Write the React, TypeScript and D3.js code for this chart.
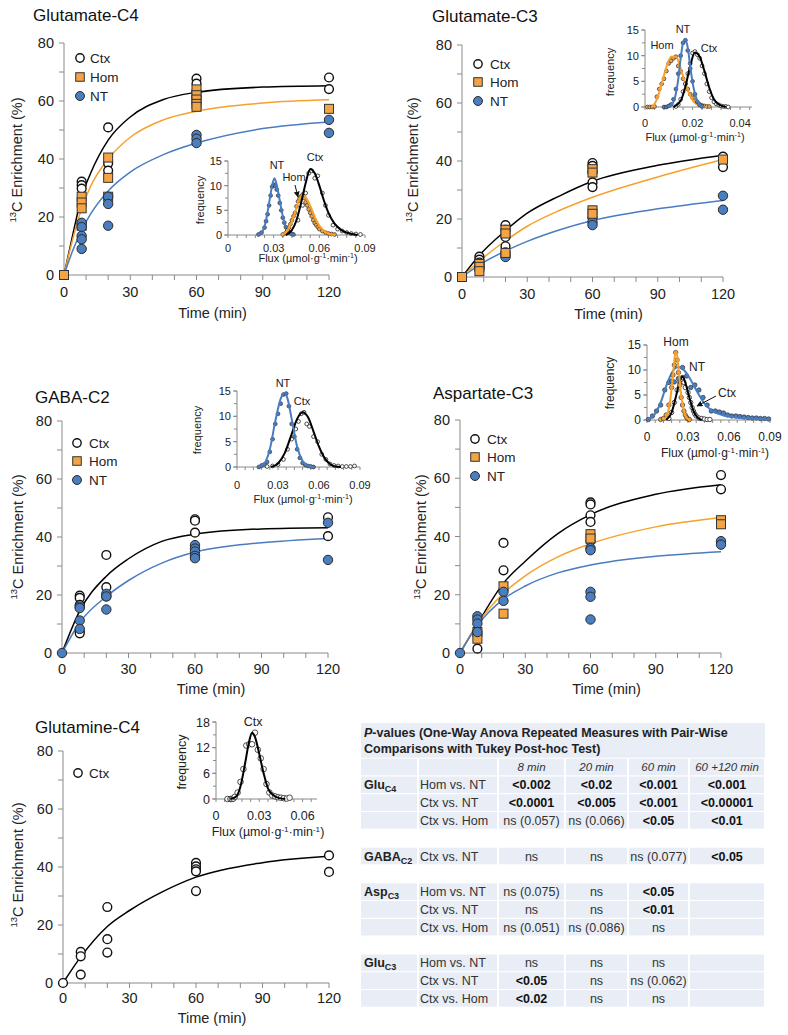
import React from "react";
import * as d3 from "d3";

type P = [number, number];

// ================= DATA =================
// Glutamate-C4 (time min, % enrichment)
const gluC4CtxPts: P[] = [[8, 32.2], [8, 31], [8, 29.8], [20, 50.9], [20, 38.5], [20, 36], [60, 67.7], [60, 66], [60, 63.5], [60, 61.5], [120, 68.1], [120, 64.1]];
const gluC4HomPts: P[] = [[0, 0], [8, 27], [8, 25], [8, 23], [8, 17], [20, 40.5], [20, 33.5], [20, 27], [60, 64], [60, 62], [60, 60.5], [60, 59], [60, 58], [120, 57.3]];
const gluC4NtPts: P[] = [[8, 18], [8, 16.5], [8, 13.5], [8, 12.3], [8, 9], [20, 27], [20, 24.5], [20, 17], [60, 48.3], [60, 47], [60, 45.5], [120, 53.5], [120, 49]];
const gluC4CtxFit: P[] = [[0, 0], [4, 14], [8, 27], [12, 35], [20, 46.5], [30, 54.5], [45, 60.5], [60, 63], [90, 64.8], [120, 65.3]];
const gluC4HomFit: P[] = [[0, 0], [4, 12.5], [8, 23], [12, 30.5], [20, 40], [30, 47.5], [45, 53.5], [60, 56.5], [90, 59.3], [120, 60.4]];
const gluC4NtFit: P[] = [[0, 0], [4, 8.5], [8, 15.5], [12, 21], [20, 29], [30, 35.5], [45, 41.5], [60, 45.5], [90, 50.5], [120, 52.8]];

// Glutamate-C3
const gluC3CtxPts: P[] = [[8, 7], [8, 6], [8, 5], [20, 17.9], [20, 16.3], [20, 13.8], [20, 10.6], [60, 39.3], [60, 38.3], [60, 36.2], [60, 32.6], [60, 31], [120, 41.5], [120, 37.9]];
const gluC3HomPts: P[] = [[0, 0], [8, 4.5], [8, 3.5], [8, 2], [20, 16.3], [20, 15], [20, 8.3], [60, 37.2], [60, 36], [60, 23], [60, 21.8], [120, 40.5]];
const gluC3NtPts: P[] = [[8, 4.2], [8, 3.1], [20, 8.5], [20, 7.7], [20, 6.9], [60, 20.5], [60, 19], [60, 17.9], [120, 28], [120, 23.2]];
const gluC3CtxFit: P[] = [[0, 0], [8, 7.5], [20, 16], [30, 22], [45, 28], [60, 33], [90, 38.5], [120, 42]];
const gluC3HomFit: P[] = [[0, 0], [8, 5.5], [20, 12.5], [30, 17.5], [45, 23], [60, 27.5], [90, 34.5], [120, 40.5]];
const gluC3NtFit: P[] = [[0, 0], [8, 4.2], [20, 9], [30, 12.3], [45, 16.3], [60, 19.5], [90, 23.5], [120, 26.4]];

// GABA-C2
const gabaCtxPts: P[] = [[8, 19.8], [8, 19], [8, 16.6], [8, 7.5], [8, 6.8], [20, 33.8], [20, 22.7], [20, 19.5], [60, 46.1], [60, 45.6], [60, 41.5], [120, 46.8], [120, 40.3]];
const gabaNtPts: P[] = [[0, 0], [8, 16], [8, 15.5], [8, 11.2], [8, 8.3], [20, 20.4], [20, 19.5], [20, 15], [60, 37.2], [60, 36], [60, 35], [60, 33.5], [60, 32.7], [120, 44.9], [120, 32.1]];
const gabaCtxFit: P[] = [[0, 0], [8, 14.5], [20, 26.5], [30, 32.5], [45, 38.5], [60, 41], [90, 42.8], [120, 43.2]];
const gabaNtFit: P[] = [[0, 0], [8, 10.5], [20, 19.5], [30, 25], [45, 31], [60, 34.8], [90, 38], [120, 39.5]];

// Aspartate-C3
const aspCtxPts: P[] = [[8, 1.5], [20, 37.8], [20, 28.4], [60, 51.7], [60, 51], [60, 47.3], [60, 45], [60, 38.5], [120, 61.1], [120, 56.2]];
const aspHomPts: P[] = [[8, 7.2], [8, 4.9], [20, 22.9], [20, 13.5], [60, 40.8], [60, 39.3], [120, 45.6], [120, 44.2]];
const aspNtPts: P[] = [[0, 0], [8, 12.6], [8, 11.5], [8, 10.1], [8, 7.2], [20, 21], [20, 17.9], [60, 36], [60, 35.3], [60, 21], [60, 19.3], [60, 11.5], [120, 38.4], [120, 37.2]];
const aspCtxFit: P[] = [[0, 0], [8, 10], [20, 24], [30, 31.5], [45, 41], [60, 47.5], [90, 54.5], [120, 57.8]];
const aspHomFit: P[] = [[0, 0], [8, 10], [20, 20.5], [30, 26.5], [45, 33], [60, 37.5], [90, 43.3], [120, 46.5]];
const aspNtFit: P[] = [[0, 0], [8, 9.5], [20, 18.5], [30, 23], [45, 27.5], [60, 30.2], [90, 33.2], [120, 34.8]];

// Glutamine-C4
const glnCtxPts: P[] = [[0, 0], [8, 10.7], [8, 9.2], [8, 2.9], [20, 26.2], [20, 15.1], [20, 10.5], [60, 41.4], [60, 40.2], [60, 39.2], [60, 38.5], [60, 31.7], [120, 44], [120, 38.3]];
const glnCtxFit: P[] = [[0, 0], [8, 9], [20, 19.5], [30, 25], [45, 31.5], [60, 36.5], [90, 41.5], [120, 43.7]];

// ---- Flux histograms (flux µmol/g/min, frequency) ----
const hA_NtDots: P[] = [[0.020, 0.1], [0.022, 0.5], [0.024, 1.5], [0.025, 2.8], [0.026, 4.2], [0.027, 6], [0.028, 8], [0.029, 9.8], [0.030, 10.2], [0.031, 10], [0.032, 9.2], [0.033, 8], [0.034, 6.5], [0.035, 5], [0.036, 3.5], [0.037, 2.5], [0.038, 1.6], [0.039, 1], [0.040, 0.6], [0.041, 0.4], [0.042, 0.2], [0.043, 0.1]];
const hA_NtFit: P[] = [[0.019, 0], [0.022, 0.4], [0.025, 3], [0.027, 6.5], [0.029, 10], [0.0305, 11.5], [0.032, 10.2], [0.034, 7], [0.036, 3.8], [0.038, 1.5], [0.040, 0.4], [0.043, 0]];
const hA_HomDots: P[] = [[0.036, 0.1], [0.038, 0.4], [0.039, 1], [0.040, 1.5], [0.041, 2.2], [0.042, 3], [0.043, 3.8], [0.044, 4.5], [0.045, 5.8], [0.046, 6.8], [0.047, 7.4], [0.048, 7.8], [0.049, 8.2], [0.050, 7.5], [0.051, 6.6], [0.052, 6], [0.053, 5.2], [0.054, 4.5], [0.055, 3.8], [0.056, 3], [0.057, 2.4], [0.058, 2], [0.059, 1.6], [0.060, 1.2], [0.062, 0.8], [0.064, 0.5], [0.066, 0.3], [0.068, 0.2], [0.070, 0.1]];
const hA_HomFit: P[] = [[0.035, 0], [0.038, 0.5], [0.041, 2], [0.044, 4.5], [0.046, 6.5], [0.048, 7.8], [0.050, 8], [0.052, 7.2], [0.055, 5.2], [0.058, 3], [0.061, 1.5], [0.064, 0.6], [0.068, 0.1], [0.070, 0]];
const hA_CtxDots: P[] = [[0.046, 3], [0.049, 6], [0.051, 8.5], [0.053, 12.5], [0.055, 13], [0.057, 11.5], [0.059, 12], [0.062, 8.5], [0.064, 6], [0.066, 4], [0.069, 2], [0.072, 1.2], [0.075, 0.8], [0.078, 0.5], [0.081, 0.3], [0.084, 0.2], [0.087, 0.1]];
const hA_CtxFit: P[] = [[0.038, 0], [0.042, 1], [0.045, 3], [0.048, 6.5], [0.051, 10.5], [0.054, 13.4], [0.057, 12.5], [0.060, 10], [0.063, 7], [0.066, 4.5], [0.070, 2.3], [0.075, 0.9], [0.080, 0.3], [0.085, 0]];

const hB_HomDots: P[] = [[0.001, 0], [0.002, 0], [0.003, 0], [0.004, 0.1], [0.005, 2], [0.006, 3.5], [0.007, 4.5], [0.008, 5.5], [0.009, 7], [0.010, 8.5], [0.011, 9], [0.012, 9.5], [0.013, 9.8], [0.014, 8], [0.015, 7], [0.016, 5.5], [0.017, 4.5], [0.018, 3.5], [0.019, 2.5], [0.020, 1.8], [0.021, 1.2], [0.022, 0.8], [0.023, 0.5], [0.024, 0.3], [0.025, 0.2], [0.026, 0.1], [0.027, 0.1]];
const hB_HomFit: P[] = [[0.003, 0], [0.005, 1.5], [0.007, 4.5], [0.009, 7.8], [0.011, 9.8], [0.013, 9.8], [0.015, 7.5], [0.017, 4.5], [0.019, 2.2], [0.021, 0.8], [0.024, 0.1], [0.026, 0]];
const hB_NtDots: P[] = [[0.008, 0], [0.009, 0], [0.010, 0.2], [0.011, 0.5], [0.012, 1.5], [0.013, 3.5], [0.014, 6.5], [0.015, 10], [0.016, 12.5], [0.017, 13], [0.018, 11], [0.019, 7.5], [0.020, 5], [0.021, 2.5], [0.022, 1], [0.023, 0.4], [0.024, 0.1]];
const hB_NtFit: P[] = [[0.010, 0], [0.012, 1], [0.014, 5.5], [0.015, 9.5], [0.016, 12.5], [0.0168, 13.2], [0.018, 11.5], [0.019, 8], [0.020, 4.8], [0.022, 1.2], [0.024, 0.1], [0.025, 0]];
const hB_CtxDots: P[] = [[0.013, 0.1], [0.014, 0.5], [0.015, 1.5], [0.016, 3], [0.017, 4.5], [0.018, 6.5], [0.019, 8.5], [0.020, 10.5], [0.021, 10.8], [0.022, 10.2], [0.023, 9.5], [0.024, 8], [0.025, 6.5], [0.026, 4.5], [0.027, 3], [0.028, 1.8], [0.029, 1], [0.030, 0.6], [0.031, 0.4], [0.032, 0.2], [0.033, 0.1], [0.034, 0.1], [0.035, 0]];
const hB_CtxFit: P[] = [[0.012, 0], [0.015, 1.2], [0.017, 4], [0.019, 8], [0.021, 10.6], [0.023, 9.8], [0.025, 7], [0.027, 3.8], [0.029, 1.5], [0.031, 0.5], [0.034, 0]];

const hC_NtDots: P[] = [[0.016, 0], [0.018, 0.3], [0.020, 0.5], [0.022, 1], [0.024, 3], [0.026, 5.5], [0.028, 8.5], [0.030, 10.5], [0.032, 12.5], [0.034, 14.3], [0.036, 14.5], [0.038, 12], [0.040, 8.5], [0.042, 6], [0.044, 3.5], [0.046, 1.8], [0.048, 0.8], [0.050, 0.4], [0.052, 0.2], [0.054, 0.1], [0.056, 0]];
const hC_NtFit: P[] = [[0.015, 0], [0.020, 0.7], [0.024, 3.5], [0.028, 9], [0.032, 13.5], [0.0345, 14.6], [0.037, 13.5], [0.040, 9.5], [0.044, 4], [0.048, 1.2], [0.052, 0.2], [0.056, 0]];
const hC_CtxDots: P[] = [[0.022, 0.1], [0.026, 0.2], [0.030, 0.5], [0.034, 1.5], [0.037, 3.5], [0.040, 5.5], [0.043, 7.5], [0.045, 9], [0.047, 10.5], [0.049, 10.8], [0.051, 8.5], [0.053, 8], [0.056, 6], [0.059, 5], [0.062, 2.5], [0.065, 1.5], [0.068, 0.6], [0.071, 0.3], [0.074, 0.2], [0.077, 0.1], [0.080, 0.1], [0.083, 0.1], [0.086, 0.2]];
const hC_CtxFit: P[] = [[0.025, 0], [0.030, 0.7], [0.035, 2.8], [0.040, 6.5], [0.044, 9.5], [0.048, 10.8], [0.052, 9.8], [0.056, 7], [0.060, 4], [0.064, 1.8], [0.068, 0.6], [0.072, 0.1], [0.076, 0]];

const hD_NtDots: P[] = [[0.001, 0.1], [0.004, 0.8], [0.007, 1.8], [0.010, 3], [0.013, 6], [0.016, 7.5], [0.018, 7.8], [0.020, 7.6], [0.023, 8.3], [0.026, 10.5], [0.029, 8.8], [0.032, 6.5], [0.035, 7], [0.038, 6], [0.041, 4.5], [0.044, 3], [0.047, 1.8], [0.050, 1.8], [0.053, 1.6], [0.056, 1.4], [0.059, 1], [0.062, 0.8], [0.065, 0.8], [0.068, 0.7], [0.071, 0.6], [0.074, 0.5], [0.077, 0.4], [0.080, 0.4], [0.083, 0.3], [0.086, 0.3], [0.089, 0.2]];
const hD_NtFit: P[] = [[0.0, 0.1], [0.005, 0.9], [0.010, 3.5], [0.015, 7.5], [0.020, 10.2], [0.023, 10.6], [0.027, 10], [0.032, 8], [0.037, 5.5], [0.042, 3.3], [0.048, 1.8], [0.055, 1], [0.065, 0.5], [0.075, 0.3], [0.090, 0.1]];
const hD_HomDots: P[] = [[0.010, 0.1], [0.012, 0.3], [0.014, 1], [0.016, 3], [0.018, 6.5], [0.019, 9], [0.020, 11], [0.021, 13.5], [0.022, 12], [0.023, 9.5], [0.024, 7], [0.025, 4.5], [0.026, 3], [0.027, 1.8], [0.028, 1], [0.029, 0.5], [0.030, 0.2], [0.031, 0.1]];
const hD_HomFit: P[] = [[0.012, 0], [0.015, 1.2], [0.017, 4], [0.019, 9], [0.0205, 13], [0.0215, 13.7], [0.023, 10.5], [0.025, 5], [0.027, 1.8], [0.029, 0.4], [0.032, 0]];
const hD_CtxDots: P[] = [[0.016, 0.3], [0.018, 1.5], [0.020, 3.5], [0.022, 6], [0.024, 7.5], [0.026, 8.5], [0.027, 7.5], [0.028, 6.5], [0.030, 5.5], [0.031, 4.5], [0.032, 3.5], [0.033, 2.5], [0.034, 1.8], [0.035, 1.2], [0.036, 0.8], [0.038, 0.4], [0.040, 0.3], [0.042, 0.2], [0.044, 0.1], [0.046, 0.1]];
const hD_CtxFit: P[] = [[0.014, 0], [0.018, 1.5], [0.021, 4.5], [0.024, 7.8], [0.026, 8.7], [0.028, 7.5], [0.031, 4.5], [0.034, 1.8], [0.037, 0.5], [0.040, 0]];

const hE_CtxDots: P[] = [[0.008, 0], [0.010, 0], [0.011, 0], [0.012, 0.1], [0.013, 0.5], [0.015, 1.5], [0.017, 4], [0.019, 7], [0.021, 12.5], [0.023, 12.8], [0.025, 12.8], [0.027, 15.5], [0.029, 11.5], [0.031, 9.5], [0.033, 7], [0.035, 3.5], [0.037, 1.5], [0.039, 0.8], [0.041, 0.6], [0.043, 0.4], [0.045, 0.3], [0.047, 0.2], [0.049, 0.1], [0.051, 0.3]];
const hE_CtxFit: P[] = [[0.010, 0], [0.014, 0.6], [0.017, 3], [0.020, 8], [0.023, 13.5], [0.025, 15.5], [0.027, 14.5], [0.030, 10.5], [0.033, 6], [0.036, 2.5], [0.040, 0.8], [0.044, 0.2], [0.048, 0]];

// ---- Table ----
const tableTitle1 = "-values (One-Way Anova Repeated Measures with Pair-Wise";
const tableTitle2 = "Comparisons with Tukey Post-hoc Test)";
const tableCols = ["8 min", "20 min", "60 min", "60 +120 min"];
const tGluC4 = [
  ["Hom vs. NT", "<0.002", "<0.02", "<0.001", "<0.001"],
  ["Ctx vs. NT", "<0.0001", "<0.005", "<0.001", "<0.00001"],
  ["Ctx vs. Hom", "ns (0.057)", "ns (0.066)", "<0.05", "<0.01"],
];
const tGaba = [["Ctx vs. NT", "ns", "ns", "ns (0.077)", "<0.05"]];
const tAsp = [
  ["Hom vs. NT", "ns (0.075)", "ns", "<0.05", ""],
  ["Ctx vs. NT", "ns", "ns", "<0.01", ""],
  ["Ctx vs. Hom", "ns (0.051)", "ns (0.086)", "ns", ""],
];
const tGluC3 = [
  ["Hom vs. NT", "ns", "ns", "ns", ""],
  ["Ctx vs. NT", "<0.05", "ns", "ns (0.062)", ""],
  ["Ctx vs. Hom", "<0.02", "ns", "ns", ""],
];

// ================= STYLE =================
const FONT = "'Liberation Sans', Arial, Helvetica, sans-serif";
const AXIS = "#8a8a8a";
const TXT = "#222";
const LINE_CTX = "#000";
const LINE_HOM = "#F7A12C";
const LINE_NT = "#4A7CC0";
const FILL_HOM = "#F4A445";
const FILL_NT = "#4B7EBF";

type Kind = "ctx" | "hom" | "nt";
const lineColor = (k: Kind) => (k === "ctx" ? LINE_CTX : k === "hom" ? LINE_HOM : LINE_NT);

function Marker({ kind, cx, cy, s = 1 }: { kind: Kind; cx: number; cy: number; s?: number }) {
  if (kind === "hom")
    return <rect x={cx - 4.5 * s} y={cy - 4.5 * s} width={9 * s} height={9 * s} fill={FILL_HOM} stroke="#333" strokeWidth={1} />;
  if (kind === "nt") return <circle cx={cx} cy={cy} r={4.7 * s} fill={FILL_NT} stroke="#2a2a2a" strokeWidth={1} />;
  return <circle cx={cx} cy={cy} r={4.4 * s} fill="#fff" stroke="#111" strokeWidth={1.4} />;
}

function Dot({ kind, cx, cy, r }: { kind: Kind; cx: number; cy: number; r: number }) {
  if (kind === "ctx") return <circle cx={cx} cy={cy} r={r} fill="#fff" stroke="#222" strokeWidth={0.8} />;
  return <circle cx={cx} cy={cy} r={r} fill={kind === "hom" ? FILL_HOM : FILL_NT} stroke="#333" strokeWidth={0.7} />;
}

type Series = { kind: Kind; pts: P[]; fit: P[] };
type MainLayout = {
  left: number; right: number; top: number; bottom: number;
  title: string; titleX: number; titleY: number;
  ylabX: number; ylabY: number; timeY: number; tickY: number;
  legX: number; legY: number[]; legTextX: number; legend: Kind[];
};

const legendName = (k: Kind) => (k === "ctx" ? "Ctx" : k === "hom" ? "Hom" : "NT");

function MainPanel({ L, series }: { L: MainLayout; series: Series[] }) {
  const x = d3.scaleLinear().domain([0, 120]).range([L.left, L.right]);
  const y = d3.scaleLinear().domain([0, 80]).range([L.bottom, L.top]);
  const line = d3.line<P>().x((d) => x(d[0])).y((d) => y(d[1])).curve(d3.curveMonotoneX);
  const xTicks = d3.range(0, 121, 10);
  const yTicks = d3.range(0, 81, 10);
  const cx = (L.left + L.right) / 2 + 16;
  return (
    <g fontFamily={FONT}>
      <text x={L.titleX} y={L.titleY} fontSize={17} fill="#111">{L.title}</text>
      <line x1={L.left} x2={L.left} y1={L.top} y2={L.bottom} stroke={AXIS} strokeWidth={1} />
      <line x1={L.left} x2={L.right} y1={L.bottom} y2={L.bottom} stroke={AXIS} strokeWidth={1} />
      {yTicks.map((t) => (
        <g key={"y" + t}>
          <line x1={L.left - 5} x2={L.left} y1={y(t)} y2={y(t)} stroke={AXIS} />
          {t % 20 === 0 && (
            <text x={L.left - 10} y={y(t) + 5} fontSize={14.5} textAnchor="end" fill={TXT}>{t}</text>
          )}
        </g>
      ))}
      {xTicks.map((t) => (
        <g key={"x" + t}>
          <line x1={x(t)} x2={x(t)} y1={L.bottom} y2={L.bottom + 5} stroke={AXIS} />
          {t % 30 === 0 && (
            <text x={x(t)} y={L.tickY} fontSize={14.5} textAnchor="middle" fill={TXT}>{t}</text>
          )}
        </g>
      ))}
      <text x={cx} y={L.timeY} fontSize={14.5} textAnchor="middle" fill={TXT}>Time (min)</text>
      <text transform={`translate(${L.ylabX},${L.ylabY}) rotate(-90)`} dy={5} fontSize={14.5} textAnchor="middle" fill={TXT}>
        <tspan fontSize={9.5} dy={-1}>13</tspan>
        <tspan dy={6}>C Enrichment (%)</tspan>
      </text>
      {series.map((s, i) => (
        <path key={"f" + i} d={line(s.fit) || ""} fill="none" stroke={lineColor(s.kind)} strokeWidth={1.5} />
      ))}
      {series.map((s, i) => (
        <g key={"p" + i}>
          {s.pts.map((p, j) => (
            <Marker key={j} kind={s.kind} cx={x(p[0])} cy={y(p[1])} />
          ))}
        </g>
      ))}
      {L.legend.map((k, i) => (
        <g key={"l" + k}>
          <Marker kind={k} cx={L.legX} cy={L.legY[i]} s={0.95} />
          <text x={L.legTextX} y={L.legY[i] + 5} fontSize={13.5} fill={TXT}>{legendName(k)}</text>
        </g>
      ))}
    </g>
  );
}

type InsetLayout = {
  left: number; right: number; bottom: number; top: number;
  xMax: number; yMax: number; yTicks: number[]; yMinor: number; xTicks: number[]; xMinor: number;
  fs: number; tickY: number; fluxX: number; fluxY: number; freqX: number; freqY: number;
  dotR: number;
  labels: { t: string; x: number; y: number }[];
  arrow?: [number, number, number, number];
};
type HSeries = { kind: Kind; dots: P[]; fit: P[] };

function Inset({ L, series, id }: { L: InsetLayout; series: HSeries[]; id: string }) {
  const x = d3.scaleLinear().domain([0, L.xMax]).range([L.left, L.right]);
  const y = d3.scaleLinear().domain([0, L.yMax]).range([L.bottom, L.top]);
  const line = d3.line<P>().x((d) => x(d[0])).y((d) => y(d[1])).curve(d3.curveMonotoneX);
  const xMinorTicks = d3.range(0, L.xMax + 1e-9, L.xMinor);
  const yMinorTicks = d3.range(0, L.yMax + 1e-9, L.yMinor);
  const fmt = (v: number) => (v === 0 ? "0" : d3.format(".2f")(v));
  return (
    <g fontFamily={FONT}>
      <defs>
        <marker id={"arr" + id} viewBox="0 0 10 10" refX="9" refY="5" markerWidth="6" markerHeight="6" orient="auto-start-reverse">
          <path d="M0,0 L10,5 L0,10 z" fill="#111" />
        </marker>
      </defs>
      <line x1={L.left} x2={L.left} y1={L.top} y2={L.bottom} stroke={AXIS} />
      <line x1={L.left} x2={L.right} y1={L.bottom} y2={L.bottom} stroke={AXIS} />
      {yMinorTicks.map((t, i) => (
        <line key={"ym" + i} x1={L.left - 3} x2={L.left} y1={y(t)} y2={y(t)} stroke={AXIS} />
      ))}
      {L.yTicks.map((t) => (
        <g key={"y" + t}>
          <line x1={L.left - 4} x2={L.left} y1={y(t)} y2={y(t)} stroke={AXIS} />
          <text x={L.left - 6} y={y(t) + L.fs * 0.36} fontSize={L.fs} textAnchor="end" fill={TXT}>{t}</text>
        </g>
      ))}
      {xMinorTicks.map((t, i) => (
        <line key={"xm" + i} x1={x(t)} x2={x(t)} y1={L.bottom} y2={L.bottom + 3} stroke={AXIS} />
      ))}
      {L.xTicks.map((t) => (
        <text key={"x" + t} x={x(t)} y={L.tickY} fontSize={L.fs} textAnchor="middle" fill={TXT}>{fmt(t)}</text>
      ))}
      <text x={L.fluxX} y={L.fluxY} fontSize={L.fs} textAnchor="middle" fill={TXT}>
        Flux (µmol·g<tspan fontSize={L.fs * 0.65} dy={-L.fs * 0.35}>-1</tspan>
        <tspan dy={L.fs * 0.35}>·min</tspan>
        <tspan fontSize={L.fs * 0.65} dy={-L.fs * 0.35}>-1</tspan>
        <tspan dy={L.fs * 0.35}>)</tspan>
      </text>
      <text transform={`translate(${L.freqX},${L.freqY}) rotate(-90)`} dy={4} fontSize={L.fs} textAnchor="middle" fill={TXT}>frequency</text>
      {series.map((s, i) => (
        <g key={"s" + i}>
          {s.dots.map((p, j) => (
            <Dot key={j} kind={s.kind} cx={x(p[0])} cy={y(p[1])} r={L.dotR} />
          ))}
          <path d={line(s.fit) || ""} fill="none" stroke={lineColor(s.kind)} strokeWidth={2} />
        </g>
      ))}
      {L.labels.map((l, i) => (
        <text key={"lb" + i} x={l.x} y={l.y} fontSize={L.fs} textAnchor="middle" fill={TXT}>{l.t}</text>
      ))}
      {L.arrow && (
        <line x1={L.arrow[0]} y1={L.arrow[1]} x2={L.arrow[2]} y2={L.arrow[3]} stroke="#111" strokeWidth={1} markerEnd={`url(#arr${id})`} />
      )}
    </g>
  );
}

// ================= LAYOUTS =================
const LA: MainLayout = { left: 64, right: 329, top: 43, bottom: 275, title: "Glutamate-C4", titleX: 33, titleY: 21, ylabX: 17, ylabY: 160, timeY: 318, tickY: 297, legX: 80, legY: [58, 77, 96], legTextX: 90, legend: ["ctx", "hom", "nt"] };
const LB: MainLayout = { left: 462, right: 723, top: 45, bottom: 277, title: "Glutamate-C3", titleX: 432, titleY: 22, ylabX: 413, ylabY: 160, timeY: 319, tickY: 299, legX: 478, legY: [64, 82, 101], legTextX: 490, legend: ["ctx", "hom", "nt"] };
const LC: MainLayout = { left: 62, right: 328, top: 421, bottom: 653, title: "GABA-C2", titleX: 35, titleY: 403, ylabX: 18, ylabY: 537, timeY: 694, tickY: 674, legX: 77, legY: [443, 461, 480], legTextX: 89, legend: ["ctx", "hom", "nt"] };
const LD: MainLayout = { left: 460, right: 721, top: 420, bottom: 653, title: "Aspartate-C3", titleX: 433, titleY: 399, ylabX: 421, ylabY: 537, timeY: 694, tickY: 674, legX: 475, legY: [439, 457, 476], legTextX: 487, legend: ["ctx", "hom", "nt"] };
const LE: MainLayout = { left: 63, right: 329, top: 751, bottom: 983, title: "Glutamine-C4", titleX: 35, titleY: 733, ylabX: 18, ylabY: 865, timeY: 1023, tickY: 1003, legX: 78, legY: [773], legTextX: 89, legend: ["ctx"] };

const IA: InsetLayout = { left: 228, right: 365, bottom: 235, top: 161, xMax: 0.09, yMax: 15, yTicks: [0, 5, 10, 15], yMinor: 2.5, xTicks: [0, 0.03, 0.06, 0.09], xMinor: 0.006, fs: 11, tickY: 252, fluxX: 308, fluxY: 262, freqX: 200, freqY: 200, dotR: 1.9,
  labels: [{ t: "NT", x: 277, y: 169 }, { t: "Hom", x: 294, y: 181 }, { t: "Ctx", x: 315, y: 161 }], arrow: [295, 185, 298, 197] };
const IB: InsetLayout = { left: 645, right: 752, bottom: 107, top: 30, xMax: 0.045, yMax: 15, yTicks: [0, 5, 10, 15], yMinor: 2.5, xTicks: [0, 0.02, 0.04], xMinor: 0.004, fs: 11, tickY: 127, fluxX: 695, fluxY: 141, freqX: 610, freqY: 72, dotR: 1.9,
  labels: [{ t: "NT", x: 683, y: 33 }, { t: "Hom", x: 662, y: 49 }, { t: "Ctx", x: 709, y: 52 }] };
const IC: InsetLayout = { left: 237, right: 360, bottom: 467, top: 391, xMax: 0.09, yMax: 15, yTicks: [0, 5, 10, 15], yMinor: 2.5, xTicks: [0, 0.03, 0.06, 0.09], xMinor: 0.006, fs: 11, tickY: 489, fluxX: 303, fluxY: 503, freqX: 197, freqY: 430, dotR: 1.9,
  labels: [{ t: "NT", x: 283, y: 387 }, { t: "Ctx", x: 302, y: 405 }] };
const ID: InsetLayout = { left: 647, right: 770, bottom: 420, top: 345, xMax: 0.09, yMax: 15, yTicks: [0, 5, 10, 15], yMinor: 2.5, xTicks: [0, 0.03, 0.06, 0.09], xMinor: 0.006, fs: 12, tickY: 441, fluxX: 715, fluxY: 457, freqX: 610, freqY: 383, dotR: 2.2,
  labels: [{ t: "Hom", x: 676, y: 346 }, { t: "NT", x: 697, y: 371 }, { t: "Ctx", x: 727, y: 397 }], arrow: [716, 396, 697, 406] };
const IE: InsetLayout = { left: 216, right: 317, bottom: 799, top: 722, xMax: 0.07, yMax: 18, yTicks: [0, 6, 12, 18], yMinor: 3, xTicks: [0, 0.03, 0.06], xMinor: 0.006, fs: 12.5, tickY: 820, fluxX: 268, fluxY: 836, freqX: 182, freqY: 762, dotR: 2.8,
  labels: [{ t: "Ctx", x: 253, y: 726 }] };

// ================= TABLE =================
const TB = { left: 361, right: 765, titleTop: 723, headerY: 767, pitch: 17.8, cols: [361, 418, 498, 565, 628, 689, 765], fill: "#E9EDF5" };

function Table() {
  const groups = [
    { name: "Glu", sub: "C4", rows: tGluC4, start: 1 },
    { name: "GABA", sub: "C2", rows: tGaba, start: 5 },
    { name: "Asp", sub: "C3", rows: tAsp, start: 7 },
    { name: "Glu", sub: "C3", rows: tGluC3, start: 11 },
  ];
  const cols = TB.cols;
  const rowY = (k: number) => TB.headerY + k * TB.pitch;
  const h = TB.pitch - 1.2;
  const cellRects = (cy: number, key: string) =>
    cols.slice(0, -1).map((c, i) => (
      <rect key={key + i} x={c + (i === 0 ? 0 : 1)} y={cy - h / 2} width={cols[i + 1] - c - (i === 0 ? 1 : 2)} height={h} fill={TB.fill} />
    ));
  return (
    <g fontFamily={FONT} fill={TXT}>
      <rect x={TB.left} y={TB.titleTop} width={TB.right - TB.left} height={rowY(0) - h / 2 - TB.titleTop - 1} fill={TB.fill} />
      <text x={364} y={737} fontSize={12.5} fontWeight="bold" fill="#222">
        <tspan fontStyle="italic">P</tspan>
        {tableTitle1}
      </text>
      <text x={364} y={753} fontSize={12.5} fontWeight="bold" fill="#222">{tableTitle2}</text>
      {cellRects(rowY(0), "h")}
      {tableCols.map((c, i) => (
        <text key={"hc" + i} x={(cols[i + 2] + cols[i + 3]) / 2} y={rowY(0) + 4} fontSize={11.5} fontStyle="italic" textAnchor="middle" fill="#333">{c}</text>
      ))}
      {groups.map((g, gi) => (
        <g key={"g" + gi}>
          {g.rows.map((r, ri) => {
            const cy = rowY(g.start + ri);
            return (
              <g key={"r" + ri}>
                {cellRects(cy, "c" + gi + "_" + ri)}
                {ri === 0 && (
                  <text x={364} y={cy + 4.5} fontSize={12.5} fontWeight="bold" fill="#222">
                    {g.name}
                    <tspan fontSize={9} dy={3}>{g.sub}</tspan>
                  </text>
                )}
                <text x={420} y={cy + 4.5} fontSize={12.5} fill="#333">{r[0]}</text>
                {r.slice(1).map((v, vi) => (
                  <text key={vi} x={(cols[vi + 2] + cols[vi + 3]) / 2} y={cy + 4.5} fontSize={12.5} textAnchor="middle"
                    fontWeight={v.startsWith("<") ? "bold" : "normal"} fill={v.startsWith("<") ? "#111" : "#333"}>{v}</text>
                ))}
              </g>
            );
          })}
        </g>
      ))}
    </g>
  );
}

export default function App() {
  return (
    <svg width={788} height={1035} viewBox="0 0 788 1035" style={{ position: "absolute", left: 0, top: 0, background: "#fff" }}>
      <rect x={0} y={0} width={788} height={1035} fill="#fff" />
      <MainPanel L={LA} series={[
        { kind: "ctx", pts: gluC4CtxPts, fit: gluC4CtxFit },
        { kind: "hom", pts: gluC4HomPts, fit: gluC4HomFit },
        { kind: "nt", pts: gluC4NtPts, fit: gluC4NtFit },
      ]} />
      <Inset id="a" L={IA} series={[
        { kind: "nt", dots: hA_NtDots, fit: hA_NtFit },
        { kind: "hom", dots: hA_HomDots, fit: hA_HomFit },
        { kind: "ctx", dots: hA_CtxDots, fit: hA_CtxFit },
      ]} />
      <MainPanel L={LB} series={[
        { kind: "ctx", pts: gluC3CtxPts, fit: gluC3CtxFit },
        { kind: "nt", pts: gluC3NtPts, fit: gluC3NtFit },
        { kind: "hom", pts: gluC3HomPts, fit: gluC3HomFit },
      ]} />
      <Inset id="b" L={IB} series={[
        { kind: "hom", dots: hB_HomDots, fit: hB_HomFit },
        { kind: "ctx", dots: hB_CtxDots, fit: hB_CtxFit },
        { kind: "nt", dots: hB_NtDots, fit: hB_NtFit },
      ]} />
      <MainPanel L={LC} series={[
        { kind: "ctx", pts: gabaCtxPts, fit: gabaCtxFit },
        { kind: "nt", pts: gabaNtPts, fit: gabaNtFit },
      ]} />
      <Inset id="c" L={IC} series={[
        { kind: "ctx", dots: hC_CtxDots, fit: hC_CtxFit },
        { kind: "nt", dots: hC_NtDots, fit: hC_NtFit },
      ]} />
      <MainPanel L={LD} series={[
        { kind: "ctx", pts: aspCtxPts, fit: aspCtxFit },
        { kind: "hom", pts: aspHomPts, fit: aspHomFit },
        { kind: "nt", pts: aspNtPts, fit: aspNtFit },
      ]} />
      <Inset id="d" L={ID} series={[
        { kind: "nt", dots: hD_NtDots, fit: hD_NtFit },
        { kind: "ctx", dots: hD_CtxDots, fit: hD_CtxFit },
        { kind: "hom", dots: hD_HomDots, fit: hD_HomFit },
      ]} />
      <MainPanel L={LE} series={[{ kind: "ctx", pts: glnCtxPts, fit: glnCtxFit }]} />
      <Inset id="e" L={IE} series={[{ kind: "ctx", dots: hE_CtxDots, fit: hE_CtxFit }]} />
      <Table />
    </svg>
  );
}
